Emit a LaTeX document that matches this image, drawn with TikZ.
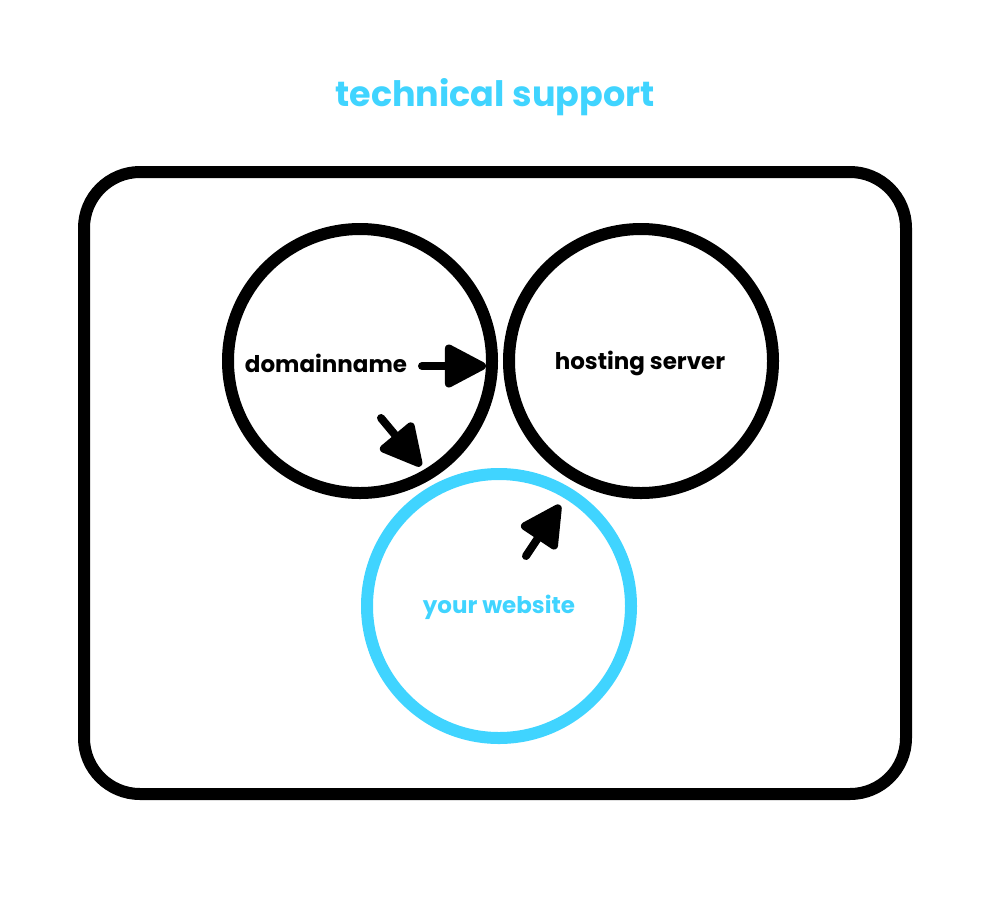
\documentclass[tikz,border=0pt]{standalone}
\usepackage{fontspec}
\setmainfont{Poppins}
\usetikzlibrary{arrows.meta}
\definecolor{skyblue}{RGB}{64,212,255}
\tikzset{
  ring/.style={draw=black, line width=12pt, circle, minimum size=264pt, inner sep=0pt},
  lbl/.style={font=\bfseries\fontsize{23}{27}\selectfont, inner sep=0pt},
  pointer/.style={line width=8pt, line cap=round, -{Triangle[length=46pt,width=46pt,round]}},
}
\begin{document}
\begin{tikzpicture}[x=1pt,y=-1pt]
\useasboundingbox (0,0) rectangle (990,898);
\node[font=\bfseries\fontsize{35}{40}\selectfont, text=skyblue] (title) at (495,97) {technical support};
\draw[line width=12pt, rounded corners=56pt] (84,172) rectangle (906,794);
\node[ring] (dom) at (360,361) {};
\node[ring] (host) at (641,361) {};
\node[ring, draw=skyblue] (web) at (499,606) {};
\node[lbl] (domt) at (326,363) {domainname};
\node[lbl] (hostt) at (640,363) {hosting server};
\node[lbl, text=skyblue] (webt) at (499,607) {your website};
\coordinate (a1s) at (422,366);
\coordinate (a1e) at (486,366);
\coordinate (a2s) at (381,418);
\coordinate (a2e) at (421,466);
\coordinate (a3s) at (526,556);
\coordinate (a3e) at (560,505);
\draw[pointer] (a1s) -- (a1e);
\draw[pointer] (a2s) -- (a2e);
\draw[pointer] (a3s) -- (a3e);
\end{tikzpicture}
\end{document}
